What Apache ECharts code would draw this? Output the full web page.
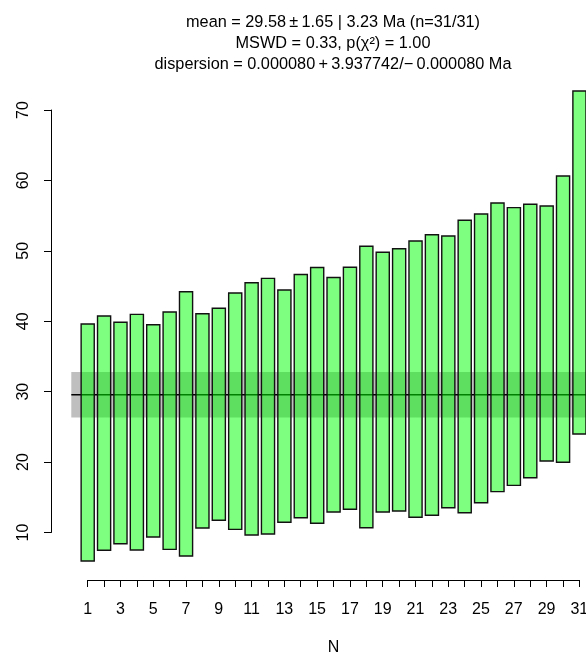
<!DOCTYPE html>
<html>
<head>
<meta charset="utf-8">
<script src="https://cdn.jsdelivr.net/npm/echarts@6/dist/echarts.min.js"></script>
<style>html,body{margin:0;padding:0;background:#fff}#c{width:586px;height:653px}</style>
</head>
<body>
<div id="c"></div>
<script>
// ---- data ----
const aliquots = [1,2,3,4,5,6,7,8,9,10,11,12,13,14,15,16,17,18,19,20,21,22,23,24,25,26,27,28,29,30,31];
const lowerBounds = [5.95,7.47,8.41,7.51,9.36,7.61,6.66,10.64,11.73,10.45,9.64,9.79,11.45,12.1,11.31,12.91,13.3,10.68,12.91,13.05,12.16,12.44,13.52,12.81,14.23,15.8,16.7,17.78,20.16,19.97,23.99];
const upperBounds = [39.62,40.75,39.86,40.99,39.52,41.32,44.2,41.08,41.85,44.02,45.48,46.1,44.45,46.65,47.65,46.22,47.67,50.65,49.8,50.31,51.41,52.3,52.12,54.35,55.24,56.8,56.14,56.62,56.38,60.64,72.71];
const meanAge = 29.58;
const meanErrWithDispersion = 3.23;
const yTicks = [10,20,30,40,50,60,70];
const titleLines = [
  'mean = 29.58\u2009\u00B1\u20091.65 | 3.23 Ma (n=31/31)',
  'MSWD = 0.33, p(\u03C7\u00B2) = 1.00',
  'dispersion = 0.000080\u2009+\u20093.937742/\u2212\u20090.000080 Ma'
];
const xTitle = 'N';

const FONT = 'Liberation Sans, Arial, sans-serif';
const chart = echarts.init(document.getElementById('c'), null, {renderer:'canvas'});

const barData = aliquots.map((n,i)=>[n, lowerBounds[i], upperBounds[i]]);
const X_MIN = 0, X_MAX = 31.4;

const option = {
  animation:false,
  backgroundColor:'#fff',
  graphic: titleLines.map((t,i)=>({
    type:'text', x:333, y:22.5 + i*21,
    style:{text:t, fill:'#000', font:'16.3px ' + FONT, textAlign:'center', textVerticalAlign:'middle'}
  })),
  grid:[
    {left:71.3, right:0, top:39.7, bottom:50.1, containLabel:false, outerBoundsMode:'none'},
    {left:51, width:10, top:110, bottom:120.5, containLabel:false, outerBoundsMode:'none'},
    {left:87.7, right:6.7, bottom:73, height:10, containLabel:false, outerBoundsMode:'none'}
  ],
  xAxis:[
    {gridIndex:0, type:'value', min:X_MIN, max:X_MAX, show:false},
    {gridIndex:1, type:'value', min:0, max:1, show:false},
    {gridIndex:2, type:'value', min:1, max:31, interval:1,
     axisLine:{show:true, onZero:false, lineStyle:{color:'#000', width:1}},
     axisTick:{show:true, length:7, lineStyle:{color:'#000', width:1}},
     splitLine:{show:false},
     axisLabel:{color:'#000', fontSize:16, fontFamily:FONT, margin:22, hideOverlap:false,
       showMinLabel:true, showMaxLabel:true,
       formatter:v=> (v%2===1 ? String(v) : '')},
     name:xTitle, nameLocation:'middle', nameGap:60,
     nameTextStyle:{color:'#000', fontSize:16, fontFamily:FONT}}
  ],
  yAxis:[
    {gridIndex:0, type:'value', min:0, max:80, show:false},
    {gridIndex:1, type:'value', min:10, max:70, interval:10, position:'left',
     axisLine:{show:true, onZero:false, lineStyle:{color:'#000', width:1}},
     axisTick:{show:true, length:7, lineStyle:{color:'#000', width:1}},
     splitLine:{show:false},
     axisLabel:{color:'#000', fontSize:16, fontFamily:FONT, rotate:90, margin:19,
       formatter:v=> yTicks.indexOf(v)>=0 ? String(v) : ''}},
    {gridIndex:2, type:'value', min:0, max:1, show:false}
  ],
  series:[
    { // gray band: mean +/- error incl. dispersion
      type:'custom', xAxisIndex:0, yAxisIndex:0, silent:true,
      data:[[X_MIN, X_MAX, meanAge-meanErrWithDispersion, meanAge+meanErrWithDispersion]],
      renderItem:(p,api)=>{
        const a = api.coord([api.value(0), api.value(3)]);
        const b = api.coord([api.value(1), api.value(2)]);
        return {type:'rect', shape:{x:a[0], y:a[1], width:b[0]-a[0], height:b[1]-a[1]},
          style:{fill:'rgba(0,0,0,0.25)'}};
      }
    },
    { // mean line
      type:'custom', xAxisIndex:0, yAxisIndex:0, silent:true,
      data:[[X_MIN, X_MAX, meanAge]],
      renderItem:(p,api)=>{
        const a = api.coord([api.value(0), api.value(2)]);
        const b = api.coord([api.value(1), api.value(2)]);
        return {type:'line', shape:{x1:a[0], y1:a[1], x2:b[0], y2:b[1]},
          style:{stroke:'#000', lineWidth:1.5}};
      }
    },
    { // error bars (boxes)
      type:'custom', xAxisIndex:0, yAxisIndex:0, silent:true,
      data:barData,
      renderItem:(p,api)=>{
        const a = api.coord([api.value(0)-0.4, api.value(2)]);
        const b = api.coord([api.value(0)+0.4, api.value(1)]);
        return {type:'rect', shape:{x:a[0], y:a[1], width:b[0]-a[0], height:b[1]-a[1]},
          style:{fill:'rgba(0,255,0,0.5)', stroke:'#111', lineWidth:1.4}};
      }
    }
  ]
};
chart.setOption(option);
</script>
</body>
</html>
